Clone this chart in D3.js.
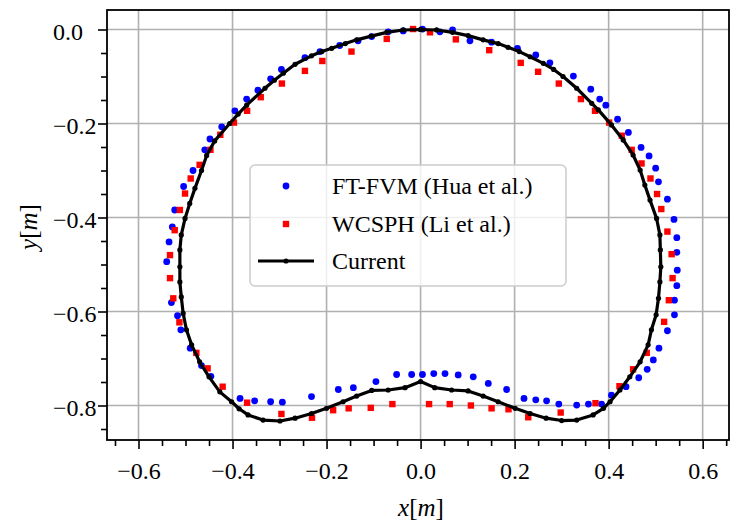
<!DOCTYPE html>
<html>
<head>
<meta charset="utf-8">
<script src="https://cdn.jsdelivr.net/npm/d3@7"></script>
<style>
  body { margin: 0; background: #fff; }
  text { font-family: "Liberation Serif", serif; fill: #000; }
</style>
</head>
<body>
<div id="chart"></div>
<script>
var width = 731;
var height = 522;

// Current (closed contour, starts and ends at the top)
var curX = [0, 0.034, 0.068, 0.101, 0.133, 0.165, 0.186, 0.210, 0.233, 0.261, 0.283, 0.303, 0.332, 0.364, 0.378, 0.406, 0.431, 0.452, 0.467,
  0.477, 0.488, 0.502, 0.509, 0.510, 0.511, 0.509, 0.506, 0.501, 0.491, 0.484, 0.467, 0.445, 0.424, 0.403, 0.389, 0.367, 0.332, 0.300,
  0.267, 0.233, 0.201, 0.165, 0.133, 0.101, 0.066, 0.030, 0, -0.033, -0.069, -0.104, -0.136, -0.165, -0.200, -0.232, -0.267, -0.299,
  -0.335, -0.367, -0.386, -0.402, -0.427, -0.450, -0.470, -0.487, -0.498, -0.505, -0.509, -0.512, -0.512, -0.512, -0.509, -0.501, -0.491,
  -0.480, -0.466, -0.455, -0.438, -0.406, -0.388, -0.370, -0.331, -0.311, -0.292, -0.267, -0.232, -0.210, -0.189, -0.160, -0.136, -0.105,
  -0.072, -0.037, 0];
var curY = [0, -0.001, -0.006, -0.013, -0.022, -0.030, -0.038, -0.047, -0.058, -0.072, -0.085, -0.100, -0.125, -0.157, -0.171, -0.203, -0.235, -0.267, -0.299,
  -0.331, -0.363, -0.402, -0.437, -0.469, -0.505, -0.537, -0.572, -0.607, -0.639, -0.671, -0.707, -0.739, -0.767, -0.792, -0.806, -0.820, -0.831, -0.832,
  -0.827, -0.817, -0.806, -0.792, -0.780, -0.769, -0.767, -0.762, -0.749, -0.762, -0.767, -0.768, -0.780, -0.792, -0.806, -0.817, -0.827, -0.833,
  -0.831, -0.820, -0.807, -0.792, -0.771, -0.739, -0.707, -0.671, -0.639, -0.604, -0.569, -0.537, -0.505, -0.469, -0.437, -0.402, -0.370,
  -0.338, -0.300, -0.268, -0.237, -0.200, -0.180, -0.161, -0.125, -0.108, -0.093, -0.074, -0.056, -0.047, -0.040, -0.030, -0.022, -0.014,
  -0.006, -0.001, 0];

// FT-FVM (Hua et al.)
var huaX = [0.004, 0.041, 0.068, 0.105, 0.151, 0.206, 0.245, 0.275, 0.325, 0.362, 0.381, 0.394, 0.419, 0.442, 0.469, 0.486, 0.500,
  0.506, 0.525, 0.539, 0.545, 0.545, 0.546, 0.545, 0.540, 0.540, 0.525, 0.507, 0.495, 0.482, 0.464, 0.437, 0.406, 0.385, 0.357,
  0.332, 0.294, 0.268, 0.245, 0.220, 0.183, 0.144, 0.112, 0.080, 0.052, 0.028, 0.004, -0.019, -0.051, -0.095, -0.143, -0.175,
  -0.232, -0.294, -0.319, -0.353, -0.384, -0.446, -0.466, -0.490, -0.510, -0.517, -0.530, -0.540, -0.535, -0.528, -0.523, -0.504,
  -0.484, -0.459, -0.448, -0.423, -0.395, -0.370, -0.346, -0.319, -0.296, -0.246, -0.214, -0.172, -0.133, -0.104, -0.069, -0.037];
var huaY = [0.001, -0.005, -0.001, -0.024, -0.027, -0.040, -0.054, -0.071, -0.099, -0.127, -0.148, -0.161, -0.191, -0.219, -0.251, -0.269, -0.295,
  -0.324, -0.361, -0.404, -0.443, -0.474, -0.512, -0.545, -0.576, -0.607, -0.641, -0.678, -0.703, -0.723, -0.741, -0.760, -0.778, -0.797, -0.797,
  -0.799, -0.797, -0.790, -0.788, -0.785, -0.766, -0.753, -0.739, -0.735, -0.732, -0.732, -0.734, -0.734, -0.734, -0.749, -0.762, -0.766,
  -0.781, -0.793, -0.792, -0.790, -0.785, -0.738, -0.715, -0.678, -0.639, -0.609, -0.581, -0.494, -0.452, -0.420, -0.384, -0.334,
  -0.300, -0.256, -0.233, -0.207, -0.173, -0.148, -0.129, -0.105, -0.085, -0.060, -0.047, -0.034, -0.024, -0.015, -0.005, -0.003];

// WCSPH (Li et al.)
var liX = [-0.016, 0.020, 0.075, 0.146, 0.213, 0.250, 0.294, 0.341, 0.371, 0.401, 0.428, 0.449, 0.470, 0.489, 0.503, 0.512, 0.525,
  0.534, 0.536, 0.528, 0.518, 0.481, 0.452, 0.423, 0.372, 0.298, 0.229, 0.187, 0.151, 0.107, 0.062, 0.018, -0.060, -0.106,
  -0.153, -0.186, -0.231, -0.296, -0.369, -0.421, -0.453, -0.477, -0.513, -0.526, -0.533, -0.533, -0.523, -0.512, -0.501, -0.489,
  -0.470, -0.447, -0.426, -0.397, -0.369, -0.340, -0.295, -0.246, -0.209, -0.147, -0.072];
var liY = [0.001, -0.006, -0.021, -0.044, -0.071, -0.090, -0.115, -0.148, -0.173, -0.198, -0.226, -0.256, -0.285, -0.317, -0.350, -0.382, -0.430,
  -0.478, -0.529, -0.576, -0.622, -0.688, -0.723, -0.759, -0.795, -0.815, -0.825, -0.808, -0.806, -0.800, -0.797, -0.797, -0.797, -0.805,
  -0.806, -0.810, -0.826, -0.818, -0.794, -0.760, -0.721, -0.688, -0.623, -0.572, -0.529, -0.480, -0.427, -0.384, -0.349, -0.317,
  -0.288, -0.256, -0.224, -0.198, -0.173, -0.144, -0.115, -0.088, -0.067, -0.047, -0.020];

var xMajor = [-0.6, -0.4, -0.2, 0.0, 0.2, 0.4, 0.6];
var xMinor = [-0.65, -0.55, -0.5, -0.45, -0.35, -0.3, -0.25, -0.15, -0.1, -0.05, 0.05, 0.1, 0.15, 0.25, 0.3, 0.35, 0.45, 0.5, 0.55, 0.65];
var yMajor = [0.0, -0.2, -0.4, -0.6, -0.8];
var yMinor = [-0.05, -0.1, -0.15, -0.25, -0.3, -0.35, -0.45, -0.5, -0.55, -0.65, -0.7, -0.75, -0.85];

var legendLabels = ["FT-FVM (Hua et al.)", "WCSPH (Li et al.)", "Current"];

var pLeft = 107, pRight = 729, pTop = 10, pBottom = 440;

var svg = d3.select("#chart").append("svg").attr("width", width).attr("height", height);

var x = d3.scaleLinear().domain([-0.667, 0.656]).range([pLeft, pRight]);
var y = d3.scaleLinear().domain([-0.8734, 0.0415]).range([pBottom, pTop]);

var fmt = d3.format(".1f");

// grid
svg.append("g").selectAll("line").data(xMajor).enter().append("line")
  .attr("x1", d => x(d)).attr("x2", d => x(d)).attr("y1", pTop).attr("y2", pBottom)
  .attr("stroke", "#b0b0b0").attr("stroke-width", 1.6);
svg.append("g").selectAll("line").data(yMajor).enter().append("line")
  .attr("x1", pLeft).attr("x2", pRight).attr("y1", d => y(d)).attr("y2", d => y(d))
  .attr("stroke", "#b0b0b0").attr("stroke-width", 1.6);

// data
var plot = svg.append("g");
plot.selectAll("circle.hua").data(huaX).enter().append("circle")
  .attr("class", "hua")
  .attr("cx", d => x(d)).attr("cy", (d, i) => y(huaY[i])).attr("r", 3.4)
  .attr("fill", "#0000ff");
plot.selectAll("rect.li").data(liX).enter().append("rect")
  .attr("class", "li")
  .attr("x", d => x(d) - 3.2).attr("y", (d, i) => y(liY[i]) - 3.2)
  .attr("width", 6.4).attr("height", 6.4)
  .attr("fill", "#ff0000");

var line = d3.line().x(d => x(d[0])).y(d => y(d[1]));
var curPts = curX.map((d, i) => [d, curY[i]]);
plot.append("path").datum(curPts)
  .attr("d", line).attr("fill", "none").attr("stroke", "#000").attr("stroke-width", 3.2)
  .attr("stroke-linejoin", "round");
plot.selectAll("circle.cur").data(curPts).enter().append("circle")
  .attr("class", "cur")
  .attr("cx", d => x(d[0])).attr("cy", d => y(d[1])).attr("r", 2.6).attr("fill", "#000");

// axes
var xAxis = d3.axisBottom(x).tickValues(xMajor).tickFormat(fmt).tickSize(9).tickPadding(13).tickSizeOuter(0);
var gx = svg.append("g").attr("transform", "translate(0," + pBottom + ")").call(xAxis);
var xAxisMinor = d3.axisBottom(x).tickValues(xMinor).tickFormat("").tickSize(6).tickSizeOuter(0);
var gx2 = svg.append("g").attr("transform", "translate(0," + pBottom + ")").call(xAxisMinor);

var yAxis = d3.axisLeft(y).tickValues(yMajor).tickFormat(fmt).tickSize(9).tickSizeOuter(0);
var gy = svg.append("g").attr("transform", "translate(" + pLeft + ",0)").call(yAxis);
var yAxisMinor = d3.axisLeft(y).tickValues(yMinor).tickFormat("").tickSize(6).tickSizeOuter(0);
var gy2 = svg.append("g").attr("transform", "translate(" + pLeft + ",0)").call(yAxisMinor);

[gx, gx2, gy, gy2].forEach(function(g) {
  g.select(".domain").remove();
  g.selectAll(".tick line").attr("stroke", "#000").attr("stroke-width", 1.6);
  g.selectAll(".tick text").style("font-family", "Liberation Serif, serif").style("font-size", "24px").attr("fill", "#000");
});
// y labels sit left-aligned in the reference
gy.selectAll(".tick text").attr("text-anchor", "start").attr("x", 53 - pLeft).attr("dy", "0.42em");

// frame
svg.append("rect").attr("x", pLeft).attr("y", pTop).attr("width", pRight - pLeft).attr("height", pBottom - pTop)
  .attr("fill", "none").attr("stroke", "#000").attr("stroke-width", 1.8);

// axis labels
var xl = svg.append("text").attr("x", (pLeft + pRight) / 2 + 3).attr("y", 516).attr("text-anchor", "middle")
  .style("font-size", "25px");
xl.append("tspan").style("font-style", "italic").text("x");
xl.append("tspan").text("[");
xl.append("tspan").style("font-style", "italic").text("m");
xl.append("tspan").text("]");

var yl = svg.append("text").attr("transform", "translate(37," + ((pTop + pBottom) / 2 + 2) + ") rotate(-90)")
  .attr("text-anchor", "middle").style("font-size", "25px");
yl.append("tspan").style("font-style", "italic").text("y");
yl.append("tspan").text("[");
yl.append("tspan").style("font-style", "italic").text("m");
yl.append("tspan").text("]");

// legend
var lg = svg.append("g");
lg.append("rect").attr("x", 250).attr("y", 165).attr("width", 316).attr("height", 121).attr("rx", 5)
  .attr("fill", "#fff").attr("fill-opacity", 0.8).attr("stroke", "#cccccc").attr("stroke-width", 1.5);
var rowY = [186, 224, 261];
lg.append("circle").attr("cx", 286).attr("cy", rowY[0]).attr("r", 3.4).attr("fill", "#0000ff");
lg.append("rect").attr("x", 286 - 3.2).attr("y", rowY[1] - 3.2).attr("width", 6.4).attr("height", 6.4).attr("fill", "#ff0000");
lg.append("line").attr("x1", 258).attr("x2", 314).attr("y1", rowY[2]).attr("y2", rowY[2])
  .attr("stroke", "#000").attr("stroke-width", 3.2);
lg.append("circle").attr("cx", 286).attr("cy", rowY[2]).attr("r", 2.6).attr("fill", "#000");
lg.selectAll("text").data(legendLabels).enter().append("text")
  .attr("x", 332).attr("y", (d, i) => rowY[i] + 8)
  .style("font-size", "24px")
  .text(d => d);
</script>
</body>
</html>
